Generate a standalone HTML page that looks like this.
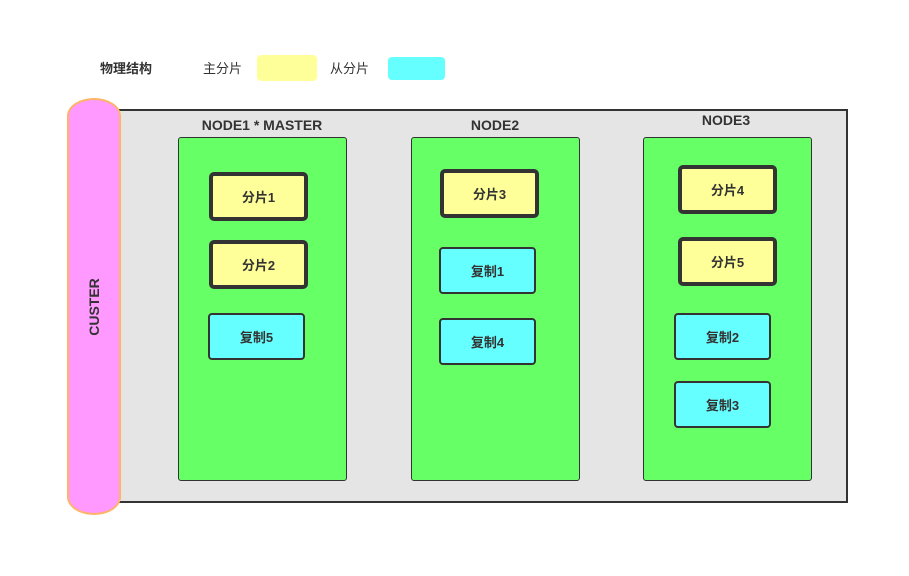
<!DOCTYPE html>
<html><head><meta charset="utf-8"><style>
body{margin:0;width:909px;height:576px;background:#fff;position:relative;overflow:hidden;font-family:"Liberation Sans","Noto Sans CJK SC",sans-serif;color:#333}
.a{position:absolute;box-sizing:border-box}
.t{position:absolute;font-size:13px;white-space:nowrap}
.node{background:#66ff66;border:1px solid #333;border-radius:3px}
.p{background:#ffff99;border:4px solid #333;border-radius:5px;display:flex;align-items:center;justify-content:center;font-weight:bold;font-size:13px}
.r{background:#66ffff;border:2px solid #333;border-radius:4px;display:flex;align-items:center;justify-content:center;font-weight:bold;font-size:13px}
.nl{position:absolute;font-weight:bold;font-size:14px;transform:translateX(-50%);white-space:nowrap}
</style></head><body>
<div class="t" style="left:100px;top:58px;font-weight:bold">物理结构</div>
<div class="t" style="left:203px;top:58px">主分片</div>
<div class="a" style="left:257px;top:55px;width:60px;height:26px;background:#ffff99;border-radius:4px"></div>
<div class="t" style="left:330px;top:58px">从分片</div>
<div class="a" style="left:388px;top:57px;width:57px;height:23px;background:#66ffff;border-radius:4px"></div>

<div class="a" style="left:110px;top:109px;width:738px;height:394px;background:#e5e5e5;border:2px solid #333"></div>
<div class="a" style="left:67px;top:98px;width:54px;height:417px;background:#ff99ff;border:2px solid #ffb366;border-radius:27px/18px"></div>
<div class="t" style="left:94px;top:307px;transform:translate(-50%,-50%) rotate(-90deg);font-weight:bold;font-size:14px">CUSTER</div>

<div class="nl" style="left:262px;top:117px">NODE1 * MASTER</div>
<div class="nl" style="left:495px;top:117px">NODE2</div>
<div class="nl" style="left:726px;top:112px">NODE3</div>

<div class="a node" style="left:178px;top:137px;width:169px;height:344px"></div>
<div class="a node" style="left:411px;top:137px;width:169px;height:344px"></div>
<div class="a node" style="left:643px;top:137px;width:169px;height:344px"></div>

<div class="a p" style="left:209px;top:172px;width:99px;height:49px">分片1</div>
<div class="a p" style="left:209px;top:240px;width:99px;height:49px">分片2</div>
<div class="a r" style="left:208px;top:313px;width:97px;height:47px">复制5</div>

<div class="a p" style="left:440px;top:169px;width:99px;height:49px">分片3</div>
<div class="a r" style="left:439px;top:247px;width:97px;height:47px">复制1</div>
<div class="a r" style="left:439px;top:318px;width:97px;height:47px">复制4</div>

<div class="a p" style="left:678px;top:165px;width:99px;height:49px">分片4</div>
<div class="a p" style="left:678px;top:237px;width:99px;height:49px">分片5</div>
<div class="a r" style="left:674px;top:313px;width:97px;height:47px">复制2</div>
<div class="a r" style="left:674px;top:381px;width:97px;height:47px">复制3</div>
</body></html>
